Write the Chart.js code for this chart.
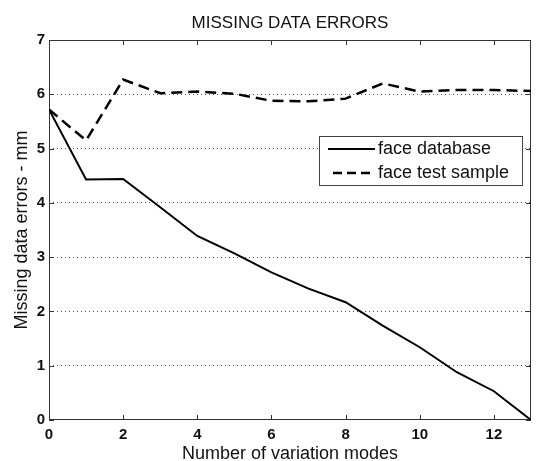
<!DOCTYPE html>
<html>
<head>
<meta charset="utf-8">
<script src="https://cdn.jsdelivr.net/npm/chart.js@4.4.0/dist/chart.umd.min.js"></script>
<style>
  html, body { margin: 0; padding: 0; background: #fff; }
  #wrap { width: 537px; height: 461px; }
</style>
</head>
<body>
<div id="wrap"><canvas id="chart"></canvas></div>
<script>
const chartTitle = 'MISSING DATA ERRORS';
const xTitle = 'Number of variation modes';
const yTitle = 'Missing data errors - mm';

const modes = [0, 1, 2, 3, 4, 5, 6, 7, 8, 9, 10, 11, 12, 13];
const faceDatabase = [5.72, 4.43, 4.44, 3.92, 3.39, 3.07, 2.72, 2.42, 2.17, 1.74, 1.34, 0.88, 0.53, 0.0];
const faceTestSample = [5.72, 5.15, 6.27, 6.02, 6.05, 6.01, 5.88, 5.87, 5.92, 6.2, 6.05, 6.08, 6.08, 6.06];

const xTicks = [0, 2, 4, 6, 8, 10, 12];
const yTicks = [0, 1, 2, 3, 4, 5, 6, 7];

const frameColor = '#333';
const baseFont = '"Liberation Sans", Arial, sans-serif';

// frame around the plot plus short inward tick marks on all four sides
const framePlugin = {
  id: 'frame',
  beforeDatasetsDraw(chart) {
    const { ctx, chartArea: a, scales } = chart;
    ctx.save();
    ctx.strokeStyle = frameColor;
    ctx.lineWidth = 1;
    ctx.strokeRect(a.left + 0.5, a.top + 0.5, a.right - a.left - 1, a.bottom - a.top - 1);
    ctx.beginPath();
    xTicks.forEach((v) => {
      const px = Math.round(scales.x.getPixelForValue(v)) + 0.5;
      ctx.moveTo(px, a.bottom); ctx.lineTo(px, a.bottom - 5);
      ctx.moveTo(px, a.top); ctx.lineTo(px, a.top + 5);
    });
    yTicks.forEach((v) => {
      const py = Math.round(scales.y.getPixelForValue(v)) + 0.5;
      ctx.moveTo(a.left, py); ctx.lineTo(a.left + 5, py);
      ctx.moveTo(a.right, py); ctx.lineTo(a.right - 5, py);
    });
    ctx.stroke();
    ctx.restore();
  },
  afterDraw(chart) {
    const { ctx, chartArea: a } = chart;
    ctx.save();
    ctx.fillStyle = '#111';
    ctx.font = '17px ' + baseFont;
    ctx.textAlign = 'center';
    ctx.textBaseline = 'middle';
    ctx.fillText(chartTitle, (a.left + a.right) / 2, 23);
    ctx.restore();
  }
};

// boxed legend inside the plot, matlab style
const boxLegend = {
  id: 'boxLegend',
  afterDraw(chart) {
    const { ctx } = chart;
    const box = { x: 319, y: 136, w: 203, h: 49 };
    ctx.save();
    ctx.fillStyle = '#fff';
    ctx.fillRect(box.x, box.y, box.w, box.h);
    ctx.strokeStyle = '#444';
    ctx.lineWidth = 1;
    ctx.strokeRect(box.x + 0.5, box.y + 0.5, box.w, box.h);
    ctx.font = '18px ' + baseFont;
    ctx.textBaseline = 'middle';
    ctx.fillStyle = '#111';
    chart.data.datasets.forEach((ds, i) => {
      const y = box.y + 13 + i * 24;
      ctx.strokeStyle = '#000';
      ctx.lineWidth = ds.borderWidth;
      ctx.setLineDash(i === 0 ? [] : [9, 5]);
      ctx.beginPath();
      ctx.moveTo(i === 0 ? 328 : 333, y);
      ctx.lineTo(375, y);
      ctx.stroke();
      ctx.fillText(ds.label, 378, y);
    });
    ctx.restore();
  }
};

new Chart(document.getElementById('chart'), {
  type: 'line',
  data: {
    labels: modes,
    datasets: [
      { label: 'face database', data: modes.map((m, i) => ({ x: m, y: faceDatabase[i] })), borderColor: '#000', borderWidth: 2, pointRadius: 0, tension: 0 },
      { label: 'face test sample', data: modes.map((m, i) => ({ x: m, y: faceTestSample[i] })), borderColor: '#000', borderWidth: 2.5, borderDash: [11, 6], pointRadius: 0, tension: 0 }
    ]
  },
  options: {
    responsive: true,
    maintainAspectRatio: false,
    animation: false,
    layout: { padding: { top: 40, right: 6, left: 0, bottom: 0 } },
    plugins: { legend: { display: false }, title: { display: false }, tooltip: { enabled: false } },
    scales: {
      x: {
        type: 'linear',
        min: 0,
        max: 13,
        afterBuildTicks: (s) => { s.ticks = xTicks.map((v) => ({ value: v })); },
        afterFit: (s) => { s.height = 41; },
        grid: { display: false, drawTicks: false, tickLength: 0 },
        border: { display: false },
        ticks: { color: '#111', padding: 6, maxRotation: 0, font: { family: baseFont, size: 15, weight: 'bold' } },
        title: { display: true, text: xTitle, color: '#111', padding: { top: 0, bottom: 0 }, font: { family: baseFont, size: 18, lineHeight: 0.8 } }
      },
      y: {
        min: 0,
        max: 7,
        afterBuildTicks: (s) => { s.ticks = yTicks.map((v) => ({ value: v })); },
        afterFit: (s) => { s.width = 49; },
        grid: {
          drawTicks: false,
          tickLength: 0,
          color: (c) => (c.tick && (c.tick.value === 0 || c.tick.value === 7) ? 'rgba(0,0,0,0)' : '#555'),
          lineWidth: 1
        },
        border: { display: false, dash: [1, 3] },
        ticks: { color: '#111', padding: 4, font: { family: baseFont, size: 15, weight: 'bold' } },
        title: { display: true, text: yTitle, color: '#111', padding: { top: 15, bottom: 0 }, font: { family: baseFont, size: 18, lineHeight: 0.8 } }
      }
    }
  },
  plugins: [framePlugin, boxLegend]
});
</script>
</body>
</html>
